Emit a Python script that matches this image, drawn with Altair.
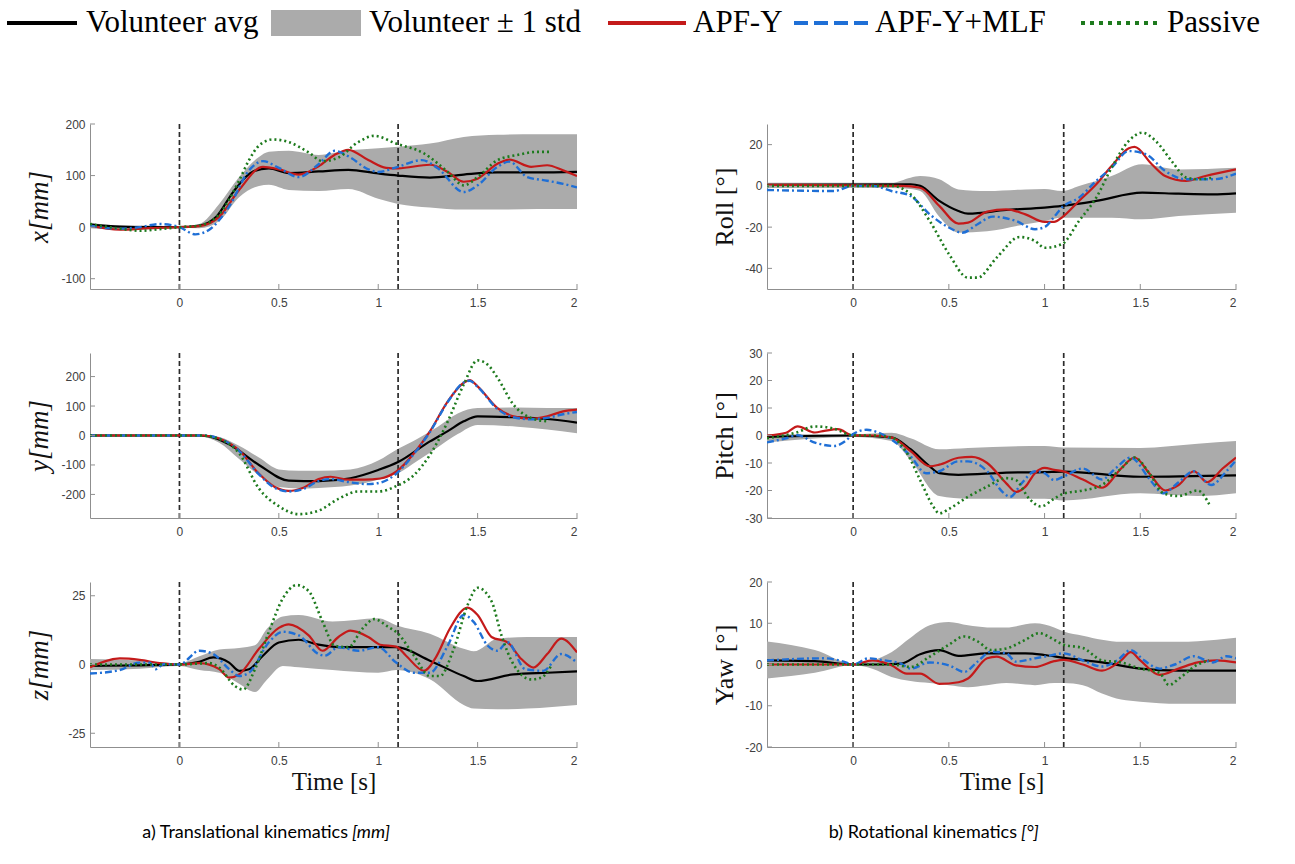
import altair as alt
import pandas as pd

# ---------------- data ----------------
T_DOMAIN = [-0.45, 2.0]
X_TICKS = [0, 0.5, 1, 1.5, 2]
EVENT_TIMES = [0, 1.1]
LEGEND_LABELS = ["Volunteer avg", "Volunteer \u00b1 1 std", "APF-Y", "APF-Y+MLF", "Passive"]
CAPTIONS = [("a) Translational kinematics", "[mm]"), ("b) Rotational kinematics", "[\u00b0]")]

# x [mm]
x_band = [(-0.45, -2, 9), (-0.3, -5, 3), (-0.15, -4, 3), (0, -1, 1), (0.1, -2, 6), (0.2, 12, 45),
          (0.3, 58, 97), (0.4, 80, 136), (0.45, 82, 146), (0.55, 72, 148), (0.7, 70, 140),
          (0.85, 74, 149), (1.0, 55, 153), (1.1, 45, 156), (1.26, 38, 162), (1.43, 34, 175),
          (1.6, 34, 179), (1.8, 35, 180), (2.0, 35, 180)]
x_avg = [(-0.45, 5), (-0.3, 1), (-0.15, 0), (0, 0), (0.1, 3), (0.185, 20), (0.27, 68), (0.37, 108),
         (0.45, 114), (0.55, 105), (0.7, 108), (0.85, 111), (1.0, 104), (1.1, 100), (1.26, 96),
         (1.43, 102), (1.6, 106), (1.8, 106), (2.0, 107)]
x_apf = [(-0.45, 3), (-0.3, -5), (-0.15, -2), (0, 0), (0.1, 2), (0.2, 20), (0.3, 72), (0.42, 117),
         (0.5, 112), (0.6, 102), (0.7, 118), (0.78, 140), (0.85, 150), (0.95, 130), (1.04, 115),
         (1.1, 114), (1.26, 121), (1.35, 107), (1.43, 88), (1.5, 94), (1.6, 123), (1.66, 131),
         (1.77, 117), (1.85, 120), (1.93, 110), (2.0, 99)]
x_mlf = [(-0.45, 3), (-0.3, -3), (-0.2, 0), (-0.1, 6), (0, 0), (0.08, -14), (0.15, -5), (0.25, 40),
         (0.35, 110), (0.42, 128), (0.5, 115), (0.6, 97), (0.7, 122), (0.78, 148), (0.86, 135),
         (0.95, 112), (1.0, 107), (1.1, 117), (1.22, 130), (1.3, 114), (1.43, 68), (1.5, 81),
         (1.6, 117), (1.66, 127), (1.75, 97), (1.85, 90), (1.93, 84), (2.0, 77)]
x_pas = [(-0.45, 6), (-0.3, -3), (-0.2, -7), (-0.1, -4), (0, 0), (0.1, 3), (0.2, 25), (0.3, 90),
         (0.35, 130), (0.4, 158), (0.47, 170), (0.55, 165), (0.65, 145), (0.72, 128), (0.8, 135),
         (0.9, 165), (0.98, 177), (1.09, 162), (1.23, 143), (1.35, 107), (1.43, 81), (1.5, 97),
         (1.6, 130), (1.7, 140), (1.8, 146), (1.87, 146)]

# y [mm]
y_band = [(-0.45, -3, 3), (0.1, -3, 3), (0.2, -25, -5), (0.3, -80, -35), (0.4, -135, -75),
          (0.5, -175, -115), (0.6, -180, -120), (0.7, -178, -120), (0.86, -170, -115),
          (1.0, -150, -85), (1.1, -128, -45), (1.2, -85, -10), (1.3, -40, 30), (1.4, 5, 75),
          (1.5, 36, 93), (1.7, 30, 95), (1.85, 20, 93), (2.0, 8, 93)]
y_avg = [(-0.45, 0), (0.1, 0), (0.15, -3), (0.25, -30), (0.4, -100), (0.55, -153), (0.7, -155),
         (0.86, -145), (1.0, -117), (1.1, -90), (1.26, -20), (1.35, 15), (1.43, 48), (1.5, 65),
         (1.68, 62), (1.85, 56), (2.0, 44)]
y_apf = [(-0.45, 0), (0.12, 0), (0.2, -10), (0.3, -50), (0.4, -130), (0.48, -175), (0.55, -188),
         (0.62, -178), (0.7, -148), (0.76, -140), (0.85, -150), (0.93, -150), (1.01, -146),
         (1.09, -123), (1.18, -60), (1.26, 14), (1.35, 116), (1.43, 179), (1.46, 188), (1.5, 167),
         (1.6, 93), (1.68, 65), (1.77, 57), (1.85, 65), (1.93, 82), (2.0, 88)]
y_mlf = [(-0.45, 0), (0.12, 0), (0.2, -10), (0.3, -52), (0.4, -132), (0.48, -178), (0.55, -190),
         (0.62, -182), (0.7, -155), (0.76, -148), (0.85, -158), (0.95, -165), (1.02, -158),
         (1.09, -130), (1.18, -62), (1.26, 12), (1.35, 114), (1.43, 180), (1.46, 186), (1.5, 165),
         (1.6, 90), (1.68, 62), (1.77, 55), (1.85, 60), (1.93, 72), (2.0, 80)]
y_pas = [(-0.45, 0), (0.1, 0), (0.2, -12), (0.3, -60), (0.4, -180), (0.5, -240), (0.6, -267),
         (0.7, -255), (0.8, -215), (0.9, -190), (1.0, -190), (1.09, -172), (1.18, -134),
         (1.26, -66), (1.35, 48), (1.43, 173), (1.5, 255), (1.55, 241), (1.6, 196), (1.68, 105),
         (1.77, 59), (1.85, 48)]

# z [mm]
z_band = [(-0.45, -2, 2), (-0.2, -1.5, 1.5), (0, -0.5, 0.5), (0.1, -2, 3), (0.2, -3, 5.5),
          (0.3, -7, 6), (0.38, -10, 7), (0.44, -5.5, 13), (0.52, -0.5, 17.5), (0.6, -1, 18),
          (0.77, -2, 15.6), (1.0, -3, 16.8), (1.09, -2, 14.3), (1.26, -5.4, 11.2),
          (1.43, -14.7, 5.7), (1.48, -16, 4.8), (1.6, -16.3, 9.4), (1.75, -16, 10), (2.0, -14.7, 10)]
z_avg = [(-0.45, -0.5), (-0.2, -0.3), (0, 0), (0.1, 1), (0.17, 2.6), (0.25, 0.7), (0.3, -2.3),
         (0.35, -1.7), (0.42, 3.2), (0.5, 8), (0.6, 9), (0.7, 7.2), (0.8, 6.3), (1.0, 6.3),
         (1.09, 6.3), (1.26, 1.4), (1.43, -4.2), (1.5, -6), (1.68, -3.6), (1.85, -3), (2.0, -2.5)]
z_apf = [(-0.45, -1), (-0.3, 2.2), (-0.2, 1.7), (-0.1, 0.5), (0, 0), (0.1, 0.5), (0.2, -1.7),
         (0.25, -4.8), (0.3, -3.6), (0.4, 5.7), (0.5, 13.3), (0.55, 14.6), (0.65, 10.6), (0.72, 5),
         (0.8, 10), (0.86, 12.3), (0.95, 10), (1.01, 7.2), (1.09, 6.5), (1.14, 3.2), (1.23, -2.3),
         (1.29, 2.6), (1.36, 13), (1.45, 20.7), (1.5, 18), (1.57, 10), (1.65, 8.1), (1.72, 2),
         (1.78, -1.1), (1.85, 3.8), (1.92, 9.4), (2.0, 4.4)]
z_mlf = [(-0.45, -3.3), (-0.3, -2), (-0.2, 0.7), (-0.15, 0.7), (-0.12, -1.7), (-0.08, 0.1), (0, 0),
         (0.1, 5), (0.17, 3.8), (0.25, -1.7), (0.3, -4.2), (0.35, -3), (0.45, 8.1), (0.52, 11.9),
         (0.6, 10.6), (0.7, 3.8), (0.73, 3.2), (0.8, 6.3), (0.9, 5), (1.0, 6.3), (1.09, 0.7),
         (1.18, -3), (1.26, -3), (1.35, 6.9), (1.43, 18), (1.48, 15.5), (1.55, 6.9), (1.6, 5),
         (1.65, 8.1), (1.74, -1.7), (1.83, -2.3), (1.92, 3.8), (2.0, 0.7)]
z_pas = [(-0.45, 0), (0, 0), (0.15, 0.5), (0.2, -1.1), (0.28, -7.9), (0.32, -9.1), (0.38, -1.7),
         (0.45, 11.9), (0.52, 24), (0.59, 28.9), (0.65, 26.7), (0.72, 15.6), (0.78, 6.9),
         (0.85, 6.3), (0.92, 13), (0.98, 16.5), (1.05, 13.7), (1.1, 11.2), (1.18, 3.2),
         (1.26, -4.2), (1.31, -4.2), (1.38, 5.7), (1.45, 21.7), (1.5, 27.9), (1.57, 23),
         (1.62, 10.6), (1.68, 0.1), (1.77, -5.4), (1.82, -4.8), (1.87, -0.5)]

# Roll [deg]
roll_band = [(-0.45, -1, 1.5), (0.2, -1, 1.5), (0.3, -1.5, 4), (0.35, -2.5, 4.8), (0.45, -15, 3.2),
             (0.55, -22.7, -1.7), (0.7, -22, -2.5), (0.9, -18.6, -1.7), (1.0, -17, -1.5),
             (1.09, -15.4, -2.5), (1.18, -15.4, 0), (1.35, -15.4, 4.8), (1.51, -16.2, 10.5),
             (1.7, -14.6, 8), (2.0, -13, 8.8)]
roll_avg = [(-0.45, 0.5), (0.3, 0.8), (0.35, 0), (0.45, -7.3), (0.55, -12.2), (0.6, -13.5),
            (0.8, -11.7), (1.0, -10.5), (1.09, -9.7), (1.27, -7.3), (1.51, -3.3), (1.7, -3.8),
            (1.88, -4.1), (2.0, -3.6)]
roll_apf = [(-0.45, 0.5), (0.25, 0), (0.35, -0.9), (0.45, -9.7), (0.55, -18.3), (0.6, -17.8),
            (0.7, -12.5), (0.8, -11.4), (0.9, -13.8), (1.0, -17.5), (1.05, -17.5), (1.09, -15.4),
            (1.18, -7.3), (1.27, 0.8), (1.35, 9.6), (1.44, 18.2), (1.47, 18.9), (1.56, 10.5),
            (1.63, 4.8), (1.74, 2.4), (1.84, 4.8), (2.0, 8)]
roll_mlf = [(-0.45, -2), (-0.1, -2.5), (0, 0), (0.1, 0), (0.2, -2.5), (0.3, -4.9), (0.4, -13.8),
            (0.5, -20.2), (0.57, -22.7), (0.65, -18.6), (0.73, -14.9), (0.85, -17), (0.95, -21),
            (1.0, -20), (1.05, -15), (1.09, -10.5), (1.18, -5.7), (1.27, 2.4), (1.35, 8.8),
            (1.44, 16.9), (1.53, 15.3), (1.63, 7.2), (1.74, 3.2), (1.88, 3.2), (2.0, 5.9)]
roll_pas = [(-0.45, 0), (0.2, 0), (0.3, -4), (0.4, -17), (0.5, -33), (0.6, -44.5), (0.65, -44.5),
            (0.75, -34.8), (0.87, -24.8), (0.95, -26.7), (1.0, -30), (1.09, -28.3), (1.18, -17),
            (1.27, -5.7), (1.35, 8.8), (1.44, 21.8), (1.51, 25.8), (1.58, 21.8), (1.67, 11.3),
            (1.74, 4), (1.81, 3.2), (1.88, 4)]

# Pitch [deg]
pitch_band = [(-0.45, -2.5, 0.5), (0, -0.5, 0.5), (0.2, -2, 1), (0.3, -9, -1), (0.45, -22, -5),
              (0.6, -23, -4.5), (1.0, -23, -3.8), (1.1, -23.6, -4.4), (1.5, -21, -4.5),
              (1.8, -22, -3), (2.0, -21, -2)]
pitch_avg = [(-0.45, -0.5), (0, 0), (0.2, -0.7), (0.3, -5), (0.4, -11.2), (0.45, -13.7),
             (0.55, -14.3), (0.8, -13.5), (1.0, -13.3), (1.1, -13.1), (1.5, -15), (2.0, -14.5)]
pitch_apf = [(-0.45, 0), (-0.35, 1), (-0.29, 3.3), (-0.2, 1.1), (-0.15, 1.7), (-0.08, 2.3), (0, 0),
             (0.1, 0), (0.2, -0.7), (0.3, -5.7), (0.4, -11.2), (0.45, -10.6), (0.55, -8.1),
             (0.62, -7.8), (0.7, -10), (0.8, -17.4), (0.85, -20.5), (0.9, -18.6), (0.95, -13.7),
             (1.0, -11.8), (1.05, -12.5), (1.1, -13.1), (1.2, -16), (1.3, -19), (1.4, -12),
             (1.47, -8), (1.55, -14), (1.63, -20), (1.7, -18), (1.78, -13), (1.85, -17),
             (1.93, -12), (2.0, -8)]
pitch_mlf = [(-0.45, -2.5), (-0.35, -1), (-0.29, 0.1), (-0.2, -2.6), (-0.1, -3.8), (-0.04, -2),
             (0, 0.5), (0.07, 2.1), (0.13, 1.1), (0.2, -1.4), (0.3, -7.5), (0.38, -13.7),
             (0.45, -13), (0.55, -9.4), (0.6, -9.4), (0.7, -13), (0.78, -20.5), (0.82, -22.3),
             (0.88, -17.4), (0.95, -13), (1.0, -13.7), (1.05, -16.2), (1.1, -14.9), (1.2, -12),
             (1.3, -16), (1.37, -12), (1.45, -8), (1.55, -16), (1.62, -21), (1.7, -17),
             (1.78, -13), (1.87, -18), (1.95, -13), (2.0, -9)]
pitch_pas = [(-0.45, -1), (-0.3, 1), (-0.2, 3.3), (-0.1, 2.5), (0, 0), (0.1, 0), (0.2, -0.7),
             (0.28, -6.3), (0.35, -16.2), (0.42, -26), (0.45, -28.3), (0.5, -26.7), (0.6, -22.3),
             (0.7, -18.6), (0.8, -15.5), (0.85, -16.2), (0.92, -23), (0.98, -25.8), (1.05, -23),
             (1.1, -21.1), (1.2, -20), (1.3, -18), (1.4, -12), (1.47, -8), (1.55, -14),
             (1.62, -21), (1.7, -22), (1.8, -20), (1.86, -25)]

# Yaw [deg]
yaw_band = [(-0.45, -3.4, 5.6), (-0.2, -2, 3.5), (0, -0.2, 0.2), (0.1, -1, 1), (0.2, -3, 3),
            (0.3, -4, 6.5), (0.4, -4.5, 9.5), (0.5, -5, 10.3), (0.6, -5.5, 9.5), (0.7, -5, 9),
            (0.8, -4.5, 9), (0.95, -5, 10), (1.05, -4.5, 9), (1.1, -4.5, 8), (1.2, -5, 7),
            (1.3, -7, 6), (1.4, -8.5, 5.5), (1.5, -9, 5.5), (1.7, -9.5, 5.5), (1.9, -9.5, 6),
            (2.0, -9.5, 6.5)]
yaw_avg = [(-0.45, 1), (-0.2, 0.8), (0, 0), (0.15, 0), (0.25, 0.2), (0.35, 2.5), (0.45, 3.5),
           (0.55, 2.1), (0.7, 2.7), (0.9, 2.7), (1.0, 2.3), (1.1, 1.6), (1.3, 0.5), (1.5, -1),
           (1.7, -1.5), (2.0, -1.5)]
yaw_apf = [(-0.45, 0), (0, 0), (0.1, 1), (0.2, -0.2), (0.28, -2.2), (0.35, -2.2), (0.45, -4.7),
           (0.55, -4.3), (0.6, -3.4), (0.7, 1.5), (0.75, 1.9), (0.85, -0.2), (0.95, -0.6),
           (1.05, 0.8), (1.1, 1.1), (1.2, 0), (1.3, -1.5), (1.4, 1), (1.45, 3), (1.5, 1),
           (1.6, -2.5), (1.7, -1), (1.8, 0.5), (1.9, 1), (2.0, 0.5)]
yaw_mlf = [(-0.45, 1), (-0.15, 1.5), (-0.05, 0.7), (0, 0), (0.08, 1.5), (0.15, 1.1), (0.25, 0.2),
           (0.3, -1), (0.4, 0.5), (0.5, -0.2), (0.58, -1.8), (0.65, 0.7), (0.72, 3.1), (0.8, 2.7),
           (0.85, 0.7), (0.95, 1.5), (1.0, 1.9), (1.1, 2.7), (1.2, 1), (1.3, -0.5), (1.38, 1),
           (1.45, 3.5), (1.52, 1), (1.6, -1), (1.68, 0), (1.78, 2), (1.88, 0.5), (1.95, 2),
           (2.0, 1.5)]
yaw_pas = [(-0.45, 0), (0.2, 0), (0.3, -0.6), (0.4, 1.9), (0.5, 4.8), (0.58, 6.8), (0.65, 5.6),
           (0.72, 3.5), (0.8, 3.9), (0.9, 6), (0.97, 7.6), (1.05, 6), (1.1, 4.8), (1.2, 4),
           (1.3, 1), (1.4, 0.5), (1.5, -1), (1.6, -2), (1.65, -5), (1.7, -3.5), (1.8, 0),
           (1.86, 1)]

# ---------------- styles ----------------
BAND = "#ababab"
AXIS_GRAY = "#8f8f8f"
LABEL_GRAY = "#404040"
STYLES = [  # avg, APF-Y, APF-Y+MLF, Passive
    dict(color="#000000", strokeWidth=2.2),
    dict(color="#c41a1a", strokeWidth=2.2),
    dict(color="#1f6fd6", strokeWidth=2.4, strokeDash=[7, 3, 2, 3]),
    dict(color="#1d7a1d", strokeWidth=2.6, strokeDash=[2, 3]),
]
LEG_STYLES = [
    dict(color="#000000", strokeWidth=4),
    None,
    dict(color="#c41a1a", strokeWidth=4),
    dict(color="#1f6fd6", strokeWidth=4, strokeDash=[14, 6]),
    dict(color="#1d7a1d", strokeWidth=4, strokeDash=[4, 5]),
]
SERIF = "Liberation Serif"
SANS = "Liberation Sans"
WL, WR, H = 487, 469, 165
one = pd.DataFrame({"k": [0]})


def panel(band, series, ydom, yticks, ytitle, w, h, italic, bottom, title_off, extra=()):
    xs = alt.Scale(domain=T_DOMAIN, nice=False, zero=False)
    ys = alt.Scale(domain=ydom, nice=False, zero=False)
    xkw = dict(values=X_TICKS, labelExpr="'' + datum.value", ticks=False, tickSize=0,
               grid=False, domainColor=AXIS_GRAY, domainWidth=1, labelColor=LABEL_GRAY,
               labelFont=SANS, labelFontSize=12, labelPadding=8)
    if bottom:
        xkw.update(title="Time [s]", titleFont=SERIF, titleFontSize=25, titleFontWeight="normal",
                   titleColor="#111111", titleX=w / 2, titleY=34, titleBaseline="middle",
                   titleAlign="center")
    else:
        xkw.update(title="")
    xaxis = alt.Axis(**xkw)
    yaxis = alt.Axis(values=yticks, labelExpr="'' + datum.value", ticks=False, tickSize=0,
                     grid=False, domainColor=AXIS_GRAY, domainWidth=1, labelColor=LABEL_GRAY,
                     labelFont=SANS, labelFontSize=12, labelPadding=5,
                     title=ytitle, titleFont=SERIF, titleFontSize=27 if italic else 26,
                     titleFontWeight="normal", titleFontStyle="italic" if italic else "normal",
                     titleColor="#111111", titleX=-title_off, titleY=h / 2,
                     titleBaseline="middle", titleAlign="center")
    X = alt.X("t:Q", scale=xs, axis=xaxis)

    band_df = pd.DataFrame(band, columns=["t", "lo", "hi"])
    layers = [
        alt.Chart(band_df).mark_area(color=BAND, opacity=1, interpolate="monotone").encode(
            x=X, y=alt.Y("lo:Q", scale=ys, axis=yaxis), y2="hi:Q"),
        alt.Chart(pd.DataFrame({"t": EVENT_TIMES})).mark_rule(
            color="#2b2b2b", strokeWidth=1.7, strokeDash=[5, 3]).encode(x=X),
    ]
    for pairs, st in zip(series, STYLES):
        layers.append(
            alt.Chart(pd.DataFrame(pairs, columns=["t", "v"])).mark_line(
                interpolate="monotone", clip=True, **st).encode(
                x=X, y=alt.Y("v:Q", scale=ys, axis=yaxis)))
    layers.append(
        alt.Chart(pd.DataFrame({"v": yticks})).mark_rule(color=AXIS_GRAY, strokeWidth=1).encode(
            y=alt.Y("v:Q", scale=ys, axis=yaxis), x=alt.value(0), x2=alt.value(5)))
    layers.append(
        alt.Chart(pd.DataFrame({"t": X_TICKS})).mark_rule(color=AXIS_GRAY, strokeWidth=1).encode(
            x=X, y=alt.value(h), y2=alt.value(h - 5)))
    layers.extend(extra)
    return alt.layer(*layers).properties(width=w, height=h)


# ---------------- legend (drawn above the top-left panel) ----------------
LEG_SYM = [(-83, -13), (181, 271), (518, 596), (704, 778), (991, 1069)]
LEG_TXT = [-4, 279, 603, 785, 1077]
LEG_Y = -101
leg_layers = []
for i, label in enumerate(LEGEND_LABELS):
    a, b = LEG_SYM[i]
    if LEG_STYLES[i] is None:
        leg_layers.append(alt.Chart(one).mark_rect(color=BAND).encode(
            x=alt.value(a), x2=alt.value(b), y=alt.value(LEG_Y - 13), y2=alt.value(LEG_Y + 13)))
    else:
        leg_layers.append(alt.Chart(one).mark_rule(**LEG_STYLES[i]).encode(
            x=alt.value(a), x2=alt.value(b), y=alt.value(LEG_Y)))
    leg_layers.append(alt.Chart(one).mark_text(
        align="left", baseline="middle", font=SERIF, fontSize=31, color="#000000").encode(
        x=alt.value(LEG_TXT[i]), y=alt.value(LEG_Y), text=alt.value(label)))


# ---------------- captions (drawn below the bottom panels) ----------------
def caption_layers(idx, split):
    normal, ital = CAPTIONS[idx]
    return [
        alt.Chart(one).mark_text(align="right", baseline="middle", font="Lato", fontSize=18,
                                 color="#000000").encode(
            x=alt.value(split), y=alt.value(251), text=alt.value(normal)),
        alt.Chart(one).mark_text(align="left", baseline="middle", font="Lato", fontSize=18,
                                 fontStyle="italic", color="#000000").encode(
            x=alt.value(split + 4), y=alt.value(251), text=alt.value(ital)),
    ]


px = panel(x_band, [x_avg, x_apf, x_mlf, x_pas], [-120, 200], [-100, 0, 100, 200], "x[mm]",
           WL, H, True, False, 51, leg_layers)
py = panel(y_band, [y_avg, y_apf, y_mlf, y_pas], [-280, 280], [-200, -100, 0, 100, 200], "y[mm]",
           WL, H, True, False, 51)
pz = panel(z_band, [z_avg, z_apf, z_mlf, z_pas], [-30, 30], [-25, 0, 25], "z[mm]",
           WL, H, True, True, 51, caption_layers(0, 258))
pr = panel(roll_band, [roll_avg, roll_apf, roll_mlf, roll_pas], [-50, 30], [-40, -20, 0, 20],
           "Roll [\u00b0]", WR, H, False, False, 43)
pp = panel(pitch_band, [pitch_avg, pitch_apf, pitch_mlf, pitch_pas], [-30, 30],
           [-30, -20, -10, 0, 10, 20, 30], "Pitch [\u00b0]", WR, H, False, False, 43)
pw = panel(yaw_band, [yaw_avg, yaw_apf, yaw_mlf, yaw_pas], [-20, 20], [-20, -10, 0, 10, 20],
           "Yaw [\u00b0]", WR, H, False, True, 43, caption_layers(1, 250))

chart = alt.concat(px, pr, py, pp, pz, pw, columns=2, bounds="flush", align="each",
                   spacing={"row": 64, "column": 190}).properties(
    padding={"left": 5, "top": 7, "right": 0, "bottom": 5},
    background="white",
).configure_view(stroke=None)

chart.save("out.html", embed_options={"renderer": "svg", "actions": False})
